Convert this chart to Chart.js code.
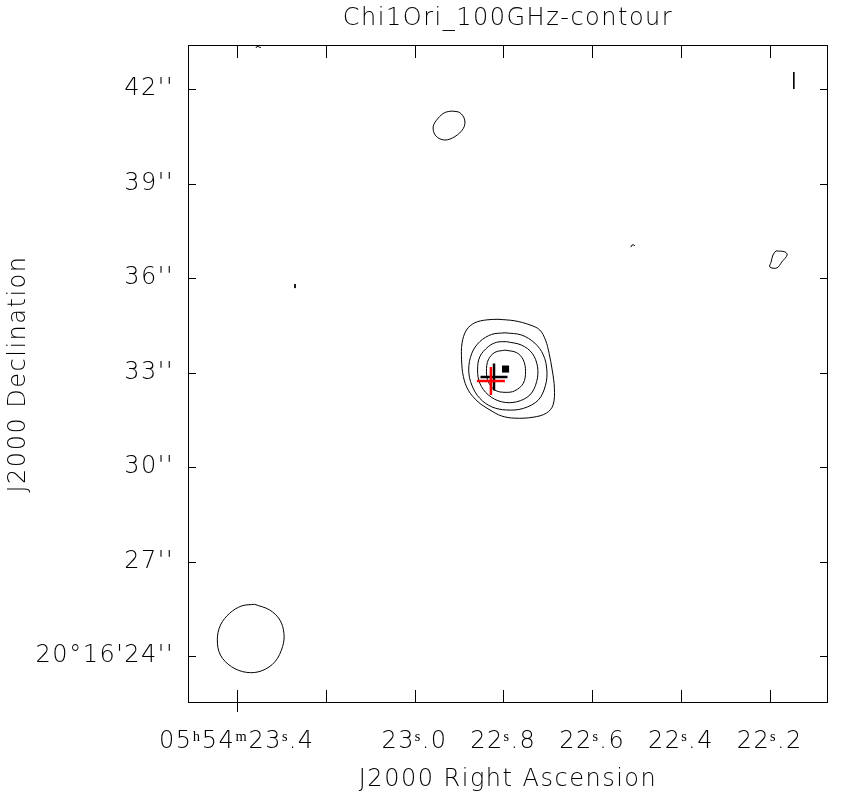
<!DOCTYPE html>
<html>
<head>
<meta charset="utf-8">
<script src="https://cdn.jsdelivr.net/npm/chart.js@4"></script>
<style>
  body { margin: 0; background: #fff; }
</style>
</head>
<body>
<canvas id="myChart" width="849" height="799"></canvas>
<script>
// RA in seconds of 05h54m, Dec in arcsec of +20d16'
const xTickValues = [23.4, 23.2, 23.0, 22.8, 22.6, 22.4, 22.2];
const xTickLabels = ['05\u02B054\u1D5023\u02E2.4', '', '23\u02E2.0', '22\u02E2.8', '22\u02E2.6', '22\u02E2.4', '22\u02E2.2'];
const yTickValues = [42, 39, 36, 33, 30, 27, 24];
const yTickLabels = ["42''", "39''", "36''", "33''", "30''", "27''", "20\u00B016'24''"];

const outerRa = [22.812, 22.774, 22.740, 22.718, 22.705, 22.697, 22.690, 22.685, 22.688, 22.703, 22.733, 22.774, 22.804, 22.830, 22.857, 22.879, 22.890, 22.894, 22.893, 22.883, 22.864, 22.838];
const outerDec = [34.69, 34.64, 34.51, 34.35, 34.03, 33.61, 33.08, 32.50, 31.97, 31.71, 31.58, 31.55, 31.62, 31.81, 32.07, 32.44, 32.87, 33.40, 33.93, 34.35, 34.58, 34.67];

const secondRa = [22.796, 22.759, 22.729, 22.710, 22.702, 22.705, 22.721, 22.755, 22.793, 22.826, 22.853, 22.871, 22.878, 22.871, 22.853, 22.826];
const secondDec = [34.26, 34.19, 33.93, 33.56, 33.08, 32.60, 32.13, 31.86, 31.81, 31.91, 32.18, 32.60, 33.08, 33.61, 33.98, 34.21];

const thirdRa = [22.793, 22.759, 22.735, 22.723, 22.725, 22.740, 22.770, 22.804, 22.834, 22.853, 22.858, 22.853, 22.834, 22.815];
const thirdDec = [33.98, 33.87, 33.61, 33.18, 32.71, 32.29, 32.07, 32.07, 32.29, 32.66, 33.08, 33.50, 33.82, 33.96];

const innerRa = [22.796, 22.770, 22.755, 22.750, 22.755, 22.774, 22.796, 22.819, 22.834, 22.838, 22.834, 22.819];
const innerDec = [33.71, 33.63, 33.40, 33.03, 32.66, 32.42, 32.37, 32.44, 32.71, 33.03, 33.40, 33.64];

const beamRa = [23.360, 23.326, 23.303, 23.294, 23.297, 23.314, 23.344, 23.378, 23.412, 23.437, 23.444, 23.437, 23.416, 23.389];
const beamDec = [25.64, 25.46, 25.14, 24.72, 24.30, 23.82, 23.53, 23.48, 23.66, 24.03, 24.51, 24.98, 25.36, 25.59];

const northRa = [22.916, 22.898, 22.887, 22.890, 22.909, 22.932, 22.952, 22.958, 22.947, 22.932];
const northDec = [41.30, 41.25, 41.02, 40.75, 40.49, 40.38, 40.51, 40.80, 41.07, 41.25];

const eastRa = [22.186, 22.166, 22.161, 22.173, 22.184, 22.200, 22.197, 22.193];
const eastDec = [36.86, 36.83, 36.73, 36.51, 36.32, 36.35, 36.51, 36.73];

// small open bits
const edgeRa = [22.146, 22.146];
const edgeDec = [42.54, 42.00];
const topFleckRa = [23.357, 23.355, 23.352, 23.348, 23.346];
const topFleckDec = [43.30, 43.35, 43.35, 43.32, 43.32];
const midFleckRa = [22.513, 22.510, 22.506, 22.504];
const midFleckDec = [36.98, 37.05, 37.05, 37.02];
const westFleckRa = [23.269, 23.269];
const westFleckDec = [35.81, 35.68];

// markers
const peakRa = [22.795];
const peakDec = [33.11];
const blackCrossRa = [22.821];
const blackCrossDec = [32.86];
const redCrossRa = [22.828];
const redCrossDec = [32.73];

const xMin = 22.069, xMax = 23.510;
const yMin = 22.508, yMax = 43.397;
const font = { family: 'DejaVu Sans', size: 24, weight: 200 };

function pts(ra, dec, close) {
  const p = ra.map((r, i) => ({ x: r, y: dec[i] }));
  if (close) p.push(p[0]);
  return p;
}

function contour(ra, dec, close) {
  return {
    data: pts(ra, dec, close),
    showLine: true,
    borderColor: '#000',
    borderWidth: 1,
    pointRadius: 0,
    tension: close ? 0.35 : 0
  };
}

// wider lettering, closer to the plotter font
const spacing = {
  id: 'spacing',
  beforeDraw(chart) { chart.ctx.letterSpacing = '1.5px'; }
};

const frame = {
  id: 'frame',
  afterDatasetsDraw(chart) {
    const { ctx, chartArea: a, scales: { x, y } } = chart;
    ctx.save();
    ctx.strokeStyle = '#000';
    ctx.lineWidth = 1;
    ctx.strokeRect(a.left + 0.5, a.top + 0.5, a.width - 1, a.height - 1);
    ctx.beginPath();
    x.ticks.forEach((t, i) => {
      const px = Math.round(x.getPixelForValue(t.value)) + 0.5;
      ctx.moveTo(px, a.bottom + (i === 0 ? 9 : 0));
      ctx.lineTo(px, a.bottom - 13);
      ctx.moveTo(px, a.top);
      ctx.lineTo(px, a.top + 13);
    });
    y.ticks.forEach(t => {
      const py = Math.round(y.getPixelForValue(t.value)) + 0.5;
      ctx.moveTo(a.left, py);
      ctx.lineTo(a.left + 8, py);
      ctx.moveTo(a.right, py);
      ctx.lineTo(a.right - 8, py);
    });
    ctx.stroke();
    ctx.restore();
  }
};

const ctx = document.getElementById('myChart');

new Chart(ctx, {
  type: 'scatter',
  data: {
    datasets: [
      {
        data: pts(redCrossRa, redCrossDec),
        pointStyle: 'cross', pointRadius: 14, borderColor: '#ff0000', borderWidth: 2.5
      },
      {
        data: pts(blackCrossRa, blackCrossDec),
        pointStyle: 'cross', pointRadius: 13.5, borderColor: '#000', borderWidth: 2.5
      },
      {
        data: pts(peakRa, peakDec),
        pointStyle: 'rect', pointRadius: 5, backgroundColor: '#000', borderColor: '#000', borderWidth: 0
      },
      contour(outerRa, outerDec, true),
      contour(secondRa, secondDec, true),
      contour(thirdRa, thirdDec, true),
      contour(innerRa, innerDec, true),
      contour(beamRa, beamDec, true),
      contour(northRa, northDec, true),
      contour(eastRa, eastDec, true),
      contour(edgeRa, edgeDec, false),
      contour(topFleckRa, topFleckDec, false),
      contour(midFleckRa, midFleckDec, false),
      contour(westFleckRa, westFleckDec, false)
    ]
  },
  options: {
    responsive: false,
    animation: false,
    events: [],
    layout: { padding: { left: 0, right: 21, top: 0, bottom: 0 } },
    plugins: { legend: { display: false }, tooltip: { enabled: false } },
    scales: {
      x: {
        type: 'linear', position: 'bottom', reverse: true,
        min: xMin, max: xMax,
        afterBuildTicks: s => { s.ticks = xTickValues.map(v => ({ value: v })); },
        afterFit: s => { s.height = 96; },
        grid: { display: false, drawTicks: false },
        border: { display: false },
        ticks: {
          autoSkip: false, maxRotation: 0, minRotation: 0, padding: 24,
          color: '#000', font: font,
          callback: v => xTickLabels[xTickValues.findIndex(t => Math.abs(t - v) < 1e-6)]
        },
        title: { display: true, text: 'J2000 Right Ascension', color: '#000', font: font, padding: { top: 0, bottom: 5 } }
      },
      x2: {
        type: 'linear', position: 'top', reverse: true,
        min: xMin, max: xMax,
        afterFit: s => { s.height = 45; },
        grid: { display: false, drawTicks: false },
        border: { display: false },
        ticks: { display: false },
        title: { display: true, text: 'Chi1Ori_100GHz-contour', color: '#000', font: font, padding: { top: 4, bottom: 0 } }
      },
      y: {
        type: 'linear', position: 'left',
        min: yMin, max: yMax,
        afterBuildTicks: s => { s.ticks = yTickValues.map(v => ({ value: v })); },
        afterFit: s => { s.width = 188; },
        grid: { display: false, drawTicks: false },
        border: { display: false },
        ticks: {
          autoSkip: false, padding: 14, color: '#000', font: font,
          callback: v => yTickLabels[yTickValues.findIndex(t => Math.abs(t - v) < 1e-6)]
        },
        title: { display: true, text: 'J2000 Declination', color: '#000', font: font, padding: { top: 4, bottom: 0 } }
      }
    }
  },
  plugins: [spacing, frame]
});
</script>
</body>
</html>
